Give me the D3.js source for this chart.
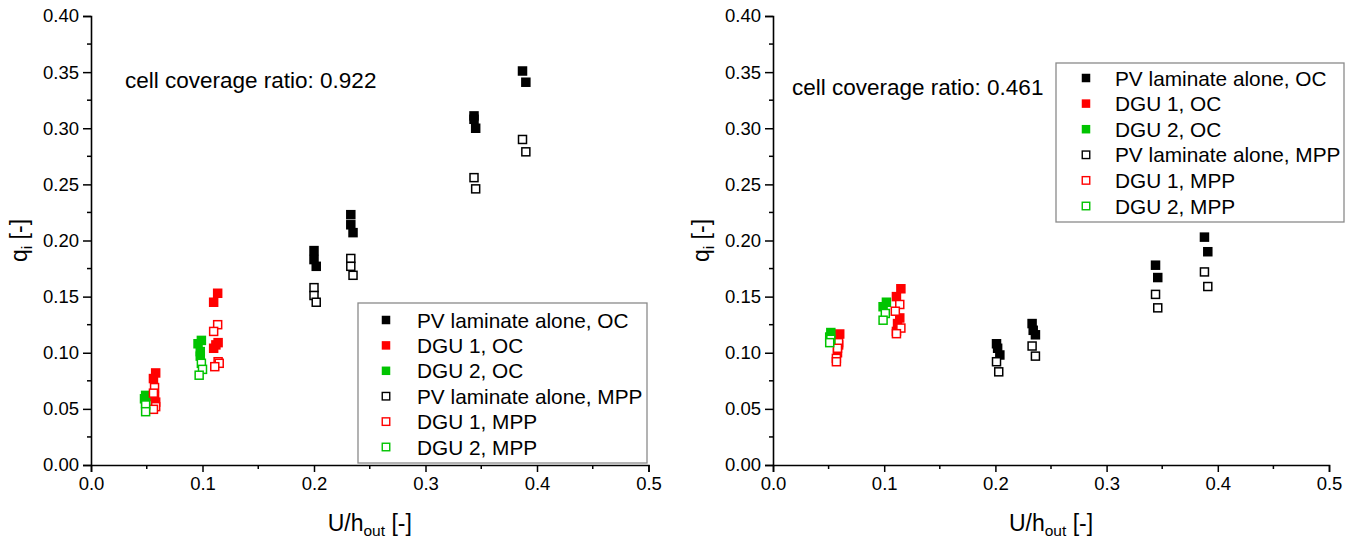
<!DOCTYPE html>
<html><head><meta charset="utf-8">
<script src="https://cdn.jsdelivr.net/npm/d3@7"></script>
<style>
html,body{margin:0;padding:0;background:#fff;}
svg{display:block;font-family:"Liberation Sans",Arial,sans-serif;}
</style></head>
<body>
<svg id="chart" width="1355" height="540"></svg>
<script>
// ---------- data ----------
const xTicks = [0.0, 0.1, 0.2, 0.3, 0.4, 0.5];
const yTicks = [0.00, 0.05, 0.10, 0.15, 0.20, 0.25, 0.30, 0.35, 0.40];
const seriesNames = ["PV laminate alone, OC", "DGU 1, OC", "DGU 2, OC",
                     "PV laminate alone, MPP", "DGU 1, MPP", "DGU 2, MPP"];
const seriesColors = ["#000000", "#ff0000", "#00c400", "#000000", "#ff0000", "#00c400"];
const seriesFilled = [true, true, true, false, false, false];

// left panel: cell coverage ratio 0.922  ([U/h_out, q_i])
const leftPvOC = [[0.200,0.191],[0.200,0.183],[0.202,0.177],[0.233,0.223],[0.233,0.214],[0.235,0.207],
                  [0.3435,0.311],[0.3435,0.308],[0.345,0.300],[0.387,0.351],[0.390,0.341]];
const leftDgu1OC = [[0.056,0.077],[0.058,0.082],[0.057,0.061],[0.058,0.056],
                    [0.110,0.145],[0.1136,0.153],[0.110,0.104],[0.114,0.109],[0.112,0.107]];
const leftDgu2OC = [[0.049,0.062],[0.048,0.059],[0.049,0.055],
                    [0.099,0.111],[0.096,0.108],[0.098,0.101],[0.098,0.097]];
const leftPvMPP = [[0.200,0.158],[0.200,0.151],[0.202,0.145],[0.233,0.184],[0.233,0.177],[0.235,0.169],
                   [0.3435,0.256],[0.345,0.246],[0.387,0.290],[0.390,0.279]];
const leftDgu1MPP = [[0.057,0.069],[0.056,0.064],[0.058,0.052],[0.056,0.0496],
                     [0.1136,0.125],[0.110,0.119],[0.114,0.092],[0.115,0.0906],[0.111,0.0876]];
const leftDgu2MPP = [[0.099,0.0906],[0.100,0.0852],[0.097,0.080],[0.049,0.0535],[0.049,0.0475]];

// right panel: cell coverage ratio 0.461
const rightPvOC = [[0.201,0.108],[0.202,0.104],[0.204,0.098],[0.233,0.126],[0.234,0.120],[0.236,0.116],
                   [0.344,0.178],[0.346,0.167],[0.388,0.203],[0.391,0.190]];
const rightDgu1OC = [[0.060,0.1167],[0.059,0.107],[0.058,0.100],
                     [0.115,0.157],[0.111,0.150],[0.114,0.131],[0.112,0.126],[0.111,0.119]];
const rightDgu2OC = [[0.052,0.118],[0.051,0.114],[0.102,0.145],[0.099,0.141]];
const rightPvMPP = [[0.201,0.092],[0.203,0.083],[0.233,0.106],[0.236,0.097],
                    [0.344,0.152],[0.346,0.140],[0.388,0.172],[0.391,0.159]];
const rightDgu1MPP = [[0.059,0.109],[0.058,0.104],[0.057,0.095],[0.057,0.092],
                      [0.114,0.143],[0.110,0.137],[0.115,0.122],[0.111,0.117]];
const rightDgu2MPP = [[0.052,0.112],[0.051,0.109],[0.101,0.135],[0.099,0.129]];

const leftLabel = "cell coverage ratio: 0.922";
const rightLabel = "cell coverage ratio: 0.461";

// ---------- drawing ----------
const svg = d3.select("#chart");

const panels = [
  {x0: 91, x1: 648.5, label: leftLabel, labelX: 125, labelY: 88,
   series: [leftPvOC, leftDgu1OC, leftDgu2OC, leftPvMPP, leftDgu1MPP, leftDgu2MPP],
   legend: {x: 358, y: 303, w: 289, h: 160, mx: 386, tx: 417, r0: 320, dr: 25.4}},
  {x0: 773, x1: 1329, label: rightLabel, labelX: 792, labelY: 95,
   series: [rightPvOC, rightDgu1OC, rightDgu2OC, rightPvMPP, rightDgu1MPP, rightDgu2MPP],
   legend: {x: 1056, y: 63, w: 288, h: 159, mx: 1086, tx: 1115, r0: 78, dr: 25.6}}
];
const yTop = 16, yBot = 465;

panels.forEach(p => {
  const x = d3.scaleLinear().domain([0, 0.5]).range([p.x0, p.x1]);
  const y = d3.scaleLinear().domain([0, 0.4]).range([yBot, yTop]);
  const g = svg.append("g");

  // markers
  p.series.forEach((data, si) => {
    const s = seriesFilled[si] ? 9.5 : 8;
    g.append("g").selectAll("rect").data(data).enter().append("rect")
      .attr("x", d => x(d[0]) - s / 2)
      .attr("y", d => y(d[1]) - s / 2)
      .attr("width", s).attr("height", s)
      .attr("fill", seriesFilled[si] ? seriesColors[si] : "#fff")
      .attr("stroke", seriesFilled[si] ? "none" : seriesColors[si])
      .attr("stroke-width", 1.5);
  });

  // minor ticks
  const xMinor = d3.range(0.05, 0.5, 0.1);
  const yMinor = d3.range(0.025, 0.4, 0.05);
  g.append("g").selectAll("line").data(xMinor).enter().append("line")
    .attr("x1", d => x(d)).attr("x2", d => x(d))
    .attr("y1", yBot).attr("y2", yBot + 4).attr("stroke", "#000").attr("stroke-width", 1.5);
  g.append("g").selectAll("line").data(yMinor).enter().append("line")
    .attr("y1", d => y(d)).attr("y2", d => y(d))
    .attr("x1", p.x0).attr("x2", p.x0 - 4).attr("stroke", "#000").attr("stroke-width", 1.5);

  // axes
  const xAxis = d3.axisBottom(x).tickValues(xTicks).tickFormat(d3.format(".1f")).tickSize(7).tickPadding(5);
  const yAxis = d3.axisLeft(y).tickValues(yTicks).tickFormat(d3.format(".2f")).tickSize(8).tickPadding(4);
  const gx = g.append("g").attr("transform", `translate(0,${yBot})`).call(xAxis);
  const gy = g.append("g").attr("transform", `translate(${p.x0},0)`).call(yAxis);
  [gx, gy].forEach(a => {
    a.select(".domain").attr("stroke", "#000").attr("stroke-width", 1.6);
    a.selectAll(".tick line").attr("stroke", "#000").attr("stroke-width", 1.5);
    a.selectAll(".tick text").attr("fill", "#000").style("font-size", "18.5px")
      .style("font-family", "'Liberation Sans', Arial, sans-serif");
  });

  // axis titles
  const xt = g.append("text").attr("x", (p.x0 + p.x1) / 2).attr("y", 531)
    .attr("text-anchor", "middle").style("font-size", "23px");
  xt.append("tspan").text("U/h");
  xt.append("tspan").text("out").style("font-size", "15.5px").attr("dy", 5);
  xt.append("tspan").text(" [-]").attr("dy", -5);

  const yt = g.append("text").attr("transform", `translate(${p.x0 - 64},${(yTop + yBot) / 2}) rotate(-90)`)
    .attr("text-anchor", "middle").style("font-size", "23px");
  yt.append("tspan").text("q");
  yt.append("tspan").text("i").style("font-size", "15.5px").attr("dy", 5);
  yt.append("tspan").text(" [-]").attr("dy", -5);

  // annotation
  g.append("text").attr("x", p.labelX).attr("y", p.labelY).style("font-size", "22.5px").text(p.label);

  // legend
  const L = p.legend;
  g.append("rect").attr("x", L.x).attr("y", L.y).attr("width", L.w).attr("height", L.h)
    .attr("fill", "#fff").attr("stroke", "#8a8a8a").attr("stroke-width", 1.3);
  seriesNames.forEach((name, i) => {
    const cy = L.r0 + i * L.dr;
    const s = seriesFilled[i] ? 8.5 : 7.5;
    g.append("rect").attr("x", L.mx - s / 2).attr("y", cy - s / 2).attr("width", s).attr("height", s)
      .attr("fill", seriesFilled[i] ? seriesColors[i] : "#fff")
      .attr("stroke", seriesFilled[i] ? "none" : seriesColors[i]).attr("stroke-width", 1.4);
    g.append("text").attr("x", L.tx).attr("y", cy + 7.5).style("font-size", "20.8px").text(name);
  });
});
</script>
</body></html>
